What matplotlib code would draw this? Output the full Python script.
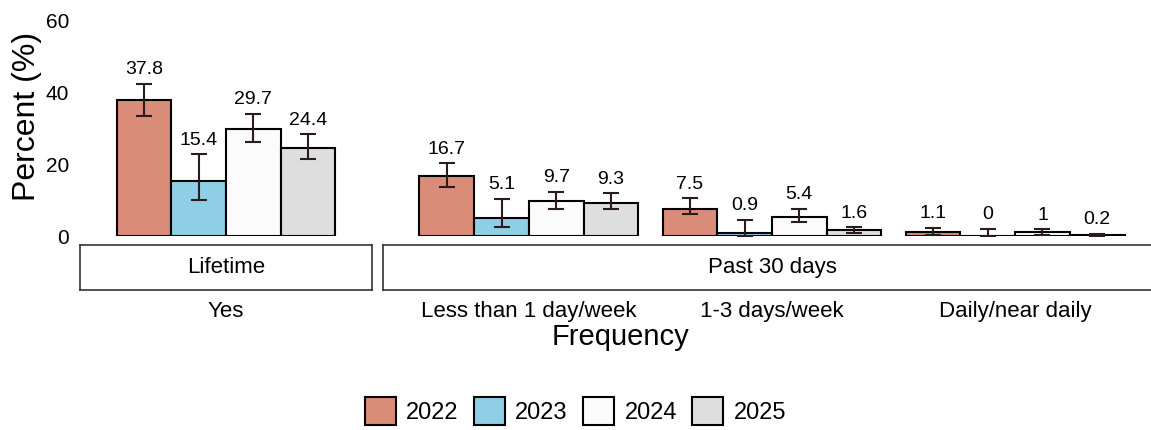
import numpy as np
import matplotlib.pyplot as plt
from matplotlib.patches import Patch

plt.rcParams['font.family'] = ['Liberation Sans', 'DejaVu Sans']

# categories: first one is the lifetime panel, the rest are past 30 days
categories = ["Yes", "Less than 1 day/week", "1-3 days/week", "Daily/near daily"]
years = ["2022", "2023", "2024", "2025"]
colors = ["#d98c78", "#8ecfe6", "#fbfbfb", "#dedede"]

pct_2022 = [37.8, 16.7, 7.5, 1.1]
pct_2023 = [15.4, 5.1, 0.9, 0]
pct_2024 = [29.7, 9.7, 5.4, 1]
pct_2025 = [24.4, 9.3, 1.6, 0.2]

lo_2022 = [33.4, 13.5, 6.2, 0.3]
hi_2022 = [42.3, 20.2, 10.5, 2.3]
lo_2023 = [9.9, 2.4, 0.0, 0.0]
hi_2023 = [22.7, 10.3, 4.5, 2.0]
lo_2024 = [26.0, 7.5, 4.0, 0.4]
hi_2024 = [34.0, 12.3, 7.6, 1.9]
lo_2025 = [21.3, 7.5, 0.9, 0.0]
hi_2025 = [28.2, 11.9, 2.4, 0.6]

pct = [pct_2022, pct_2023, pct_2024, pct_2025]
lo = [lo_2022, lo_2023, lo_2024, lo_2025]
hi = [hi_2022, hi_2023, hi_2024, hi_2025]

W, H = 1151, 430
fig = plt.figure(figsize=(W / 100, H / 100), dpi=100)

def px(x0, y0, x1, y1):
    # pixel box (top-left origin) -> figure fraction rect
    return [x0 / W, (H - y1) / H, (x1 - x0) / W, (y1 - y0) / H]

ax_l = fig.add_axes(px(80, 20, 372, 236))
ax_r = fig.add_axes(px(383, 20, 1161, 236))
st_l = fig.add_axes(px(80, 245, 372, 290))
st_r = fig.add_axes(px(383, 245, 1161, 290))

panels = [(ax_l, st_l, [0], "Lifetime"), (ax_r, st_r, [1, 2, 3], "Past 30 days")]
bw = 0.225
offsets = np.array([-1.5, -0.5, 0.5, 1.5]) * bw

for ax, st, idx, title in panels:
    xs = np.arange(1, len(idx) + 1)
    for k in range(4):
        v = np.array([pct[k][i] for i in idx])
        l = np.array([lo[k][i] for i in idx])
        h = np.array([hi[k][i] for i in idx])
        ax.bar(xs + offsets[k], v, width=bw, color=colors[k],
               edgecolor="black", linewidth=1.5, zorder=2)
        ax.errorbar(xs + offsets[k], v, yerr=[v - l, h - v], fmt="none",
                    ecolor="#2a1c1c", elinewidth=1.5, capsize=6,
                    capthick=1.5, zorder=3)
        for x, val, top in zip(xs + offsets[k], v, h):
            ax.annotate(f"{val:g}", (x, top), xytext=(0, 4),
                        textcoords="offset points", ha="center", va="bottom",
                        fontsize=14)
    ax.set_xlim(0.4, len(idx) + 0.6)
    ax.set_ylim(0, 60)
    ax.set_xticks([])
    for s in ax.spines.values():
        s.set_visible(False)

    st.set_xlim(0.4, len(idx) + 0.6)
    st.set_ylim(0, 1)
    st.set_yticks([])
    st.set_xticks(xs)
    st.set_xticklabels([categories[i] for i in idx], fontsize=16)
    st.tick_params(axis="x", length=0, pad=8)
    for s in st.spines.values():
        s.set_linewidth(1.2)
        s.set_color("#333333")
    st.text(0.5, 0.5, title, transform=st.transAxes, ha="center",
            va="center", fontsize=16)

ax_l.set_yticks([0, 20, 40, 60])
ax_l.tick_params(axis="y", length=0, pad=8, labelsize=15)
ax_r.set_yticks([])

fig.text(620 / W, (H - 337) / H, "Frequency", ha="center", va="center",
         fontsize=21)
fig.text(27 / W, (H - 116) / H, "Percent (%)", ha="center", va="center",
         rotation=90, fontsize=23)

handles = [Patch(facecolor=c, edgecolor="black", linewidth=1.5) for c in colors]
fig.legend(handles, years, loc="center", bbox_to_anchor=(0.5, (H - 411) / H),
           ncol=4, frameon=False, fontsize=17, handlelength=1.3,
           handleheight=1.5, handletextpad=0.45, columnspacing=0.65)

fig.savefig("out.png", dpi=100)
